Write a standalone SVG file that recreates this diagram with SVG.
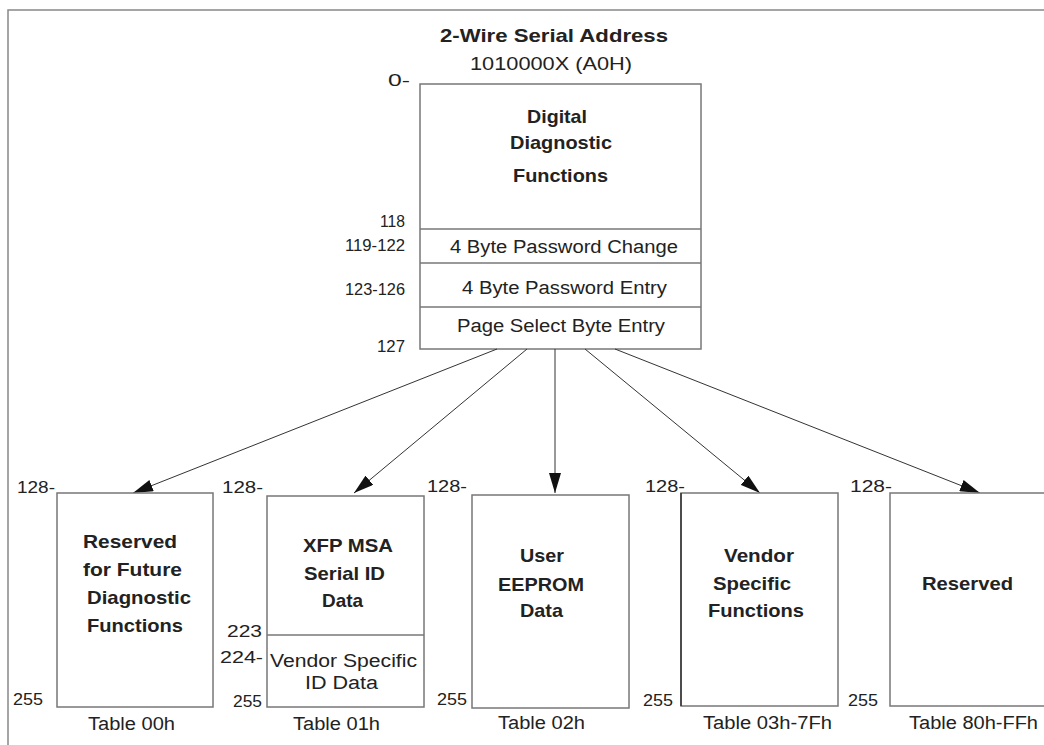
<svg xmlns="http://www.w3.org/2000/svg" width="1044" height="745" viewBox="0 0 1044 745">
<style>
text{font-family:"Liberation Sans",Arial,sans-serif;fill:#222}
.b{font-weight:bold;font-size:19px}
.r{font-size:18px}
.n{font-size:17px}
.box{fill:#fff;stroke:#777;stroke-width:1.5}
.div{stroke:#777;stroke-width:1.5}
.frame{fill:none;stroke:#888;stroke-width:1.5}
.arr{stroke:#333;stroke-width:1;fill:none;marker-end:url(#ah)}
</style>
<defs>
<marker id="ah" markerUnits="userSpaceOnUse" markerWidth="20" markerHeight="12" refX="20" refY="6" orient="auto">
<path d="M0,0 L20,6 L0,12 z" fill="#111"/>
</marker>
</defs>
<rect width="1044" height="745" fill="#fff"/>
<path class="frame" d="M8,745 V10 H1044"/>

<g id="title">
<text class="b" x="440" y="42" textLength="228" lengthAdjust="spacingAndGlyphs">2-Wire Serial Address</text>
<text class="b" style="font-weight:normal" x="470" y="70" textLength="162" lengthAdjust="spacingAndGlyphs">1010000X (A0H)</text>
</g>

<g id="lower-memory">
<rect class="box" x="420" y="84" width="281" height="265"/>
<line class="div" x1="420" y1="229" x2="701" y2="229"/>
<line class="div" x1="420" y1="263" x2="701" y2="263"/>
<line class="div" x1="420" y1="307" x2="701" y2="307"/>
<text class="n" x="388" y="86" textLength="22" lengthAdjust="spacingAndGlyphs">0-</text>
<text class="b" x="527" y="123" textLength="60" lengthAdjust="spacingAndGlyphs">Digital</text>
<text class="b" x="510" y="149" textLength="102" lengthAdjust="spacingAndGlyphs">Diagnostic</text>
<text class="b" x="513" y="182" textLength="95" lengthAdjust="spacingAndGlyphs">Functions</text>
<text class="n" x="380" y="227" textLength="25" lengthAdjust="spacingAndGlyphs">118</text>
<text class="n" x="345" y="251" textLength="60" lengthAdjust="spacingAndGlyphs">119-122</text>
<text class="r" x="450" y="253" textLength="228" lengthAdjust="spacingAndGlyphs">4 Byte Password Change</text>
<text class="n" x="345" y="295" textLength="60" lengthAdjust="spacingAndGlyphs">123-126</text>
<text class="r" x="462" y="294" textLength="205" lengthAdjust="spacingAndGlyphs">4 Byte Password Entry</text>
<text class="r" x="457" y="332" textLength="208" lengthAdjust="spacingAndGlyphs">Page Select Byte Entry</text>
<text class="n" x="377" y="352" textLength="28" lengthAdjust="spacingAndGlyphs">127</text>
</g>

<g id="connectors">
<line class="arr" x1="497" y1="349" x2="133" y2="493"/>
<line class="arr" x1="527" y1="349" x2="354" y2="493"/>
<line class="arr" x1="555" y1="349" x2="555" y2="493"/>
<line class="arr" x1="585" y1="349" x2="760" y2="493"/>
<line class="arr" x1="615" y1="349" x2="980" y2="493"/>
</g>

<g id="table-00h">
<rect class="box" x="57" y="493" width="156" height="214"/>
<text class="n" x="17" y="493" textLength="38" lengthAdjust="spacingAndGlyphs">128-</text>
<text class="b" x="83" y="548" textLength="94" lengthAdjust="spacingAndGlyphs">Reserved</text>
<text class="b" x="83" y="576" textLength="99" lengthAdjust="spacingAndGlyphs">for Future</text>
<text class="b" x="87" y="604" textLength="104" lengthAdjust="spacingAndGlyphs">Diagnostic</text>
<text class="b" x="87" y="632" textLength="96" lengthAdjust="spacingAndGlyphs">Functions</text>
<text class="n" x="13" y="705" textLength="30" lengthAdjust="spacingAndGlyphs">255</text>
<text class="r" x="88" y="730" textLength="87" lengthAdjust="spacingAndGlyphs">Table 00h</text>
</g>

<g id="table-01h">
<rect class="box" x="267" y="496" width="157" height="211"/>
<line class="div" x1="267" y1="635" x2="424" y2="635"/>
<text class="n" x="222" y="493" textLength="41" lengthAdjust="spacingAndGlyphs">128-</text>
<text class="b" x="303" y="552" textLength="90" lengthAdjust="spacingAndGlyphs">XFP MSA</text>
<text class="b" x="304" y="580" textLength="81" lengthAdjust="spacingAndGlyphs">Serial ID</text>
<text class="b" x="322" y="607" textLength="41" lengthAdjust="spacingAndGlyphs">Data</text>
<text class="n" x="227" y="637" textLength="35" lengthAdjust="spacingAndGlyphs">223</text>
<text class="n" x="220" y="663" textLength="43" lengthAdjust="spacingAndGlyphs">224-</text>
<text class="r" x="270" y="667" textLength="147" lengthAdjust="spacingAndGlyphs">Vendor Specific</text>
<text class="r" x="305" y="689" textLength="73" lengthAdjust="spacingAndGlyphs">ID Data</text>
<text class="n" x="233" y="707" textLength="29" lengthAdjust="spacingAndGlyphs">255</text>
<text class="r" x="293" y="730" textLength="87" lengthAdjust="spacingAndGlyphs">Table 01h</text>
</g>

<g id="table-02h">
<rect class="box" x="472" y="495" width="157" height="213"/>
<text class="n" x="427" y="492" textLength="40" lengthAdjust="spacingAndGlyphs">128-</text>
<text class="b" x="520" y="562" textLength="44" lengthAdjust="spacingAndGlyphs">User</text>
<text class="b" x="498" y="591" textLength="86" lengthAdjust="spacingAndGlyphs">EEPROM</text>
<text class="b" x="520" y="617" textLength="43" lengthAdjust="spacingAndGlyphs">Data</text>
<text class="n" x="437" y="705" textLength="30" lengthAdjust="spacingAndGlyphs">255</text>
<text class="r" x="498" y="729" textLength="87" lengthAdjust="spacingAndGlyphs">Table 02h</text>
</g>

<g id="table-03h-7fh">
<rect class="box" x="681" y="493" width="157" height="213"/>
<line x1="681" y1="493" x2="681" y2="706" stroke="#333" stroke-width="1.5"/>
<text class="n" x="645" y="492" textLength="40" lengthAdjust="spacingAndGlyphs">128-</text>
<text class="b" x="724" y="562" textLength="70" lengthAdjust="spacingAndGlyphs">Vendor</text>
<text class="b" x="713" y="590" textLength="78" lengthAdjust="spacingAndGlyphs">Specific</text>
<text class="b" x="708" y="617" textLength="96" lengthAdjust="spacingAndGlyphs">Functions</text>
<text class="n" x="643" y="706" textLength="30" lengthAdjust="spacingAndGlyphs">255</text>
<text class="r" x="703" y="729" textLength="129" lengthAdjust="spacingAndGlyphs">Table 03h-7Fh</text>
</g>

<g id="table-80h-ffh">
<rect class="box" x="890" y="493" width="160" height="213"/>
<text class="n" x="850" y="492" textLength="42" lengthAdjust="spacingAndGlyphs">128-</text>
<text class="b" x="922" y="590" textLength="91" lengthAdjust="spacingAndGlyphs">Reserved</text>
<text class="n" x="848" y="706" textLength="30" lengthAdjust="spacingAndGlyphs">255</text>
<text class="r" x="909" y="729" textLength="129" lengthAdjust="spacingAndGlyphs">Table 80h-FFh</text>
</g>
</svg>
